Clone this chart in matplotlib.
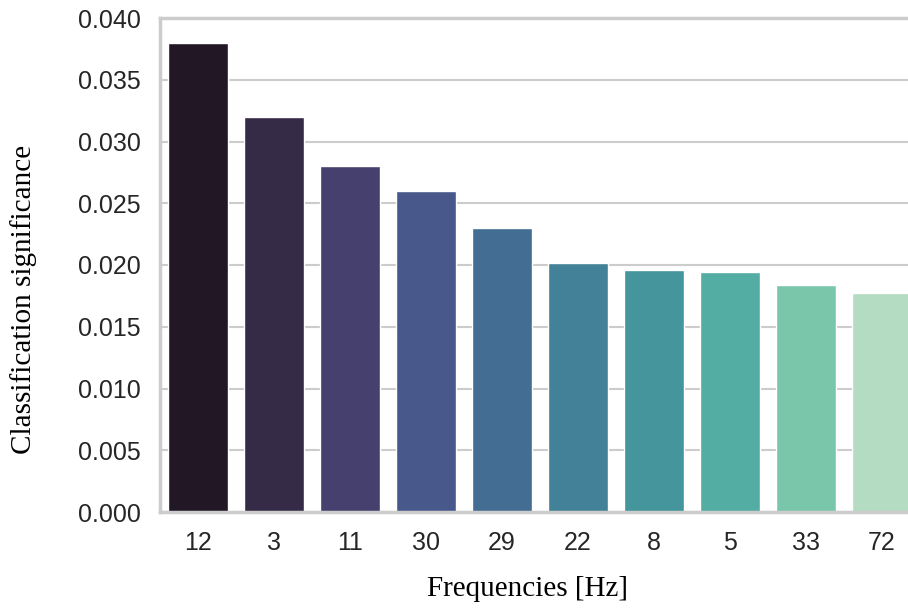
import numpy as np
import matplotlib
matplotlib.use("Agg")
import matplotlib.pyplot as plt
import seaborn as sns

frequencies = ["12", "3", "11", "30", "29", "22", "8", "5", "33", "72"]
significance = [0.0380, 0.0320, 0.0280, 0.0260, 0.0230, 0.0202, 0.0196, 0.0194, 0.0184, 0.0177]

sns.set_theme(style="whitegrid")
plt.rcParams["font.family"] = ["Liberation Sans", "DejaVu Sans"]

fig = plt.figure(figsize=(9.08, 6.08), dpi=100)
# axes runs slightly past the right edge, as in the cropped original
ax = fig.add_axes([160 / 908, (608 - 512) / 608, 760 / 908, 494 / 608])

sns.barplot(x=frequencies, y=significance, hue=frequencies, palette="mako",
            legend=False, ax=ax)

ax.set_ylim(0, 0.040)
ax.set_yticks(np.arange(0, 0.0401, 0.005))
ax.yaxis.set_major_formatter(matplotlib.ticker.FormatStrFormatter("%.3f"))
ax.tick_params(axis="both", labelsize=18, colors="#262626", length=0)
ax.tick_params(axis="x", pad=14)
ax.tick_params(axis="y", pad=14)
ax.grid(True, axis="y", color="#cccccc", linewidth=1.5)
ax.grid(False, axis="x")
ax.set_axisbelow(True)
for s in ax.spines.values():
    s.set_color("#cccccc")
    s.set_linewidth(2.5)

ax.set_xlabel("Frequencies [Hz]", family=["Liberation Serif"], fontsize=21, color="black")
ax.set_ylabel("Classification significance", family=["Liberation Serif"], fontsize=21, color="black")
ax.xaxis.set_label_coords(0.483, -0.13)
ax.yaxis.set_label_coords(-0.162, 0.43)

fig.savefig("out.png", dpi=100)
